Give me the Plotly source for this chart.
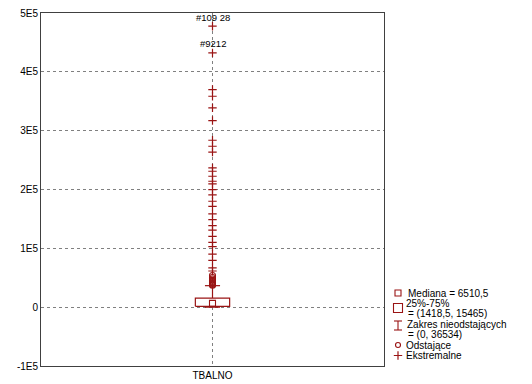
import plotly.graph_objects as go

# Variable and summary statistics for TBALNO
category = "TBALNO"
q1, median, q3 = 1418.5, 6510.5, 15465
whisker_low, whisker_high = 0, 36534

# Outliers (circles) and extreme values (crosses)
outlier_vals = [37200, 38600, 40100, 41800, 43500, 45600, 47900, 50500, 53800]
extreme_vals = [477600, 432300, 369900, 358500, 338800, 317200, 283700, 273500,
                263600, 236700, 231000, 222500, 214000, 209500, 199800, 191000,
                180000, 171400, 158500, 148800, 138600, 131000, 120400, 110200,
                102900, 90100, 79600, 66700, 61500]
# Case labels for the two largest extremes
labelled_cases = [("#109 28", 477600), ("#9212", 432300)]

# Y axis ticks
y_tickvals = [-100000, 0, 100000, 200000, 300000, 400000, 500000]
y_ticktext = ["-1E5", "0", "1E5", "2E5", "3E5", "4E5", "5E5"]

# Legend entries
legend_lines = ["Mediana = 6510,5", "25%-75%", "= (1418,5, 15465)",
                "Zakres nieodstających", "= (0, 36534)", "Odstające", "Ekstremalne"]

RED = "#9a1414"
FONT = "Liberation Sans, Arial, sans-serif"
half_box = 0.1
half_cap = 0.044

fig = go.Figure()

# Whiskers with caps
fig.add_trace(go.Scatter(
    x=[0, 0, None, -half_cap, half_cap, None, 0, 0, None, -half_cap, half_cap],
    y=[q3, whisker_high, None, whisker_high, whisker_high, None,
       q1, whisker_low, None, whisker_low, whisker_low],
    mode="lines", line=dict(color=RED, width=1.2), hoverinfo="skip",
    showlegend=False))

# 25%-75% box
fig.add_trace(go.Scatter(
    x=[-half_box, half_box, half_box, -half_box, -half_box],
    y=[q1, q1, q3, q3, q1],
    mode="lines", fill="toself", fillcolor="white",
    line=dict(color=RED, width=1.2), hoverinfo="skip", showlegend=False))

# Median
fig.add_trace(go.Scatter(
    x=[0], y=[median], mode="markers",
    marker=dict(symbol="square-open", size=6, color=RED, line=dict(width=1.1)),
    showlegend=False))

# Outliers
fig.add_trace(go.Scatter(
    x=[0] * len(outlier_vals), y=outlier_vals, mode="markers",
    marker=dict(symbol="circle-open", size=6, color=RED, line=dict(width=1.1)),
    showlegend=False))

# Extremes
fig.add_trace(go.Scatter(
    x=[0] * len(extreme_vals), y=extreme_vals, mode="markers",
    marker=dict(symbol="cross-thin-open", size=6, color=RED,
                line=dict(width=1.2, color=RED)),
    showlegend=False))

for text, val in labelled_cases:
    fig.add_annotation(x=0, y=val, xref="x", yref="y", text=text,
                       showarrow=False, yshift=9,
                       font=dict(family=FONT, size=9.5, color="black"))

# Legend drawn in its own pixel-scaled axes on the right
lx = 398
leg_y = [293, 303, 313.5, 324, 334.5, 345, 355.5]
fig.add_trace(go.Scatter(
    x=[lx], y=[leg_y[0]], xaxis="x2", yaxis="y2", mode="markers",
    marker=dict(symbol="square-open", size=6, color=RED, line=dict(width=1.1)),
    showlegend=False, hoverinfo="skip"))
fig.add_trace(go.Scatter(
    x=[lx], y=[308], xaxis="x2", yaxis="y2", mode="markers",
    marker=dict(symbol="square-open", size=9, color=RED, line=dict(width=1.1)),
    showlegend=False, hoverinfo="skip"))
fig.add_trace(go.Scatter(
    x=[lx - 4, lx + 4, None, lx, lx, None, lx - 4, lx + 4],
    y=[321, 321, None, 321, 330, None, 330, 330],
    xaxis="x2", yaxis="y2", mode="lines", line=dict(color=RED, width=1.1),
    showlegend=False, hoverinfo="skip"))
fig.add_trace(go.Scatter(
    x=[lx], y=[leg_y[5]], xaxis="x2", yaxis="y2", mode="markers",
    marker=dict(symbol="circle-open", size=5, color=RED, line=dict(width=1.1)),
    showlegend=False, hoverinfo="skip"))
fig.add_trace(go.Scatter(
    x=[lx], y=[leg_y[6]], xaxis="x2", yaxis="y2", mode="markers",
    marker=dict(symbol="cross-thin-open", size=6, color=RED,
                line=dict(width=1.2, color=RED)),
    showlegend=False, hoverinfo="skip"))

text_x = [406, 404, 406, 405, 406, 404, 404]
for tx, ty, txt in zip(text_x, leg_y, legend_lines):
    fig.add_annotation(x=tx, y=ty, xref="x2", yref="y2", text=txt,
                       showarrow=False, xanchor="left", yanchor="middle",
                       font=dict(family=FONT, size=10, color="black"))

fig.update_layout(
    width=532, height=384,
    margin=dict(l=41, r=0, t=13, b=18),
    paper_bgcolor="white", plot_bgcolor="white",
    font=dict(family=FONT, size=10.5, color="black"),
    xaxis=dict(domain=[0, 343 / 491], range=[-1, 1],
               tickvals=[0], ticktext=[category], ticks="",
               showgrid=True, gridcolor="#808080", griddash="dot", gridwidth=1,
               zeroline=False, showline=True, linecolor="#404040", linewidth=1,
               mirror=True, tickfont=dict(family=FONT, size=10)),
    yaxis=dict(range=[-100000, 500000], tickvals=y_tickvals, ticktext=y_ticktext,
               ticks="", showgrid=True, gridcolor="#808080", griddash="dot",
               gridwidth=1, zeroline=False, showline=True, linecolor="#404040",
               linewidth=1, mirror=True, tickfont=dict(family=FONT, size=10)),
    xaxis2=dict(domain=[344 / 491, 1], range=[385, 532], visible=False),
    yaxis2=dict(domain=[0, 1], range=[366, 13], visible=False, anchor="x2"),
)

fig.write_html("out.html")
